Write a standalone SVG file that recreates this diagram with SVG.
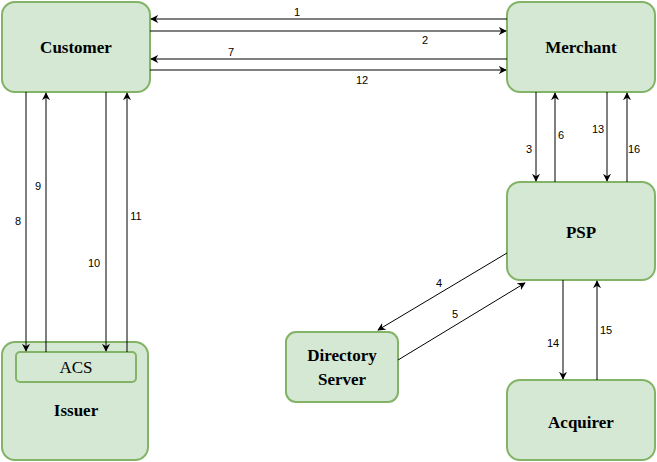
<svg xmlns="http://www.w3.org/2000/svg" width="657" height="462" viewBox="0 0 657 462">
<style>
.n{fill:#d5e8d4;stroke:#82b366;stroke-width:2}
.t{font-family:"Liberation Serif",serif;font-weight:bold;font-size:17px;text-anchor:middle}
.c line{stroke:#000;stroke-width:1;marker-end:url(#a)}
.l{font-family:"Liberation Sans",sans-serif;font-size:11px;text-anchor:middle}
</style>
<defs><marker id="a" viewBox="0 0 10 10" refX="9" refY="5" markerWidth="8" markerHeight="8" orient="auto" markerUnits="userSpaceOnUse"><path d="M0,0 L10,5 L0,10 L3,5z" fill="#000"/></marker></defs>
<rect width="657" height="462" fill="#fff"/>
<g id="customer"><rect class="n" x="2" y="2" width="148" height="90" rx="13"/><text class="t" x="76" y="53">Customer</text></g>
<g id="merchant"><rect class="n" x="507" y="2" width="148" height="90" rx="13"/><text class="t" x="581" y="53">Merchant</text></g>
<g id="psp"><rect class="n" x="507" y="182" width="148" height="98" rx="13"/><text class="t" x="581" y="238">PSP</text></g>
<g id="acquirer"><rect class="n" x="507" y="380" width="148" height="80" rx="13"/><text class="t" x="581" y="428">Acquirer</text></g>
<g id="directory"><rect class="n" x="286" y="332" width="112" height="70" rx="10"/><text class="t" x="342" y="361">Directory</text><text class="t" x="342" y="385">Server</text></g>
<g id="issuer"><rect class="n" x="2" y="342" width="146" height="118" rx="13"/><text class="t" x="76" y="416">Issuer</text>
<g id="acs"><rect class="n" x="16" y="352" width="120" height="30" rx="4"/><text x="76" y="373" style="font-family:'Liberation Serif',serif;font-size:17px;text-anchor:middle">ACS</text></g></g>
<g class="c">
<line x1="507" y1="19" x2="151" y2="19"/>
<line x1="150" y1="31" x2="506" y2="31"/>
<line x1="507" y1="59" x2="151" y2="59"/>
<line x1="150" y1="70" x2="506" y2="70"/>
<line x1="536" y1="92" x2="536" y2="181"/>
<line x1="555" y1="182" x2="555" y2="93"/>
<line x1="607" y1="92" x2="607" y2="181"/>
<line x1="627" y1="182" x2="627" y2="93"/>
<line x1="26" y1="92" x2="26" y2="351"/>
<line x1="46" y1="352" x2="46" y2="93"/>
<line x1="106" y1="92" x2="106" y2="351"/>
<line x1="127" y1="352" x2="127" y2="93"/>
<line x1="507" y1="253" x2="378" y2="330"/>
<line x1="398" y1="360" x2="525" y2="283"/>
<line x1="563" y1="280" x2="563" y2="379"/>
<line x1="597" y1="380" x2="597" y2="281"/>
</g>
<g id="labels">
<text class="l" x="297" y="16">1</text><text class="l" x="425" y="44">2</text><text class="l" x="231" y="56">7</text><text class="l" x="362" y="84">12</text>
<text class="l" x="529" y="153">3</text><text class="l" x="561" y="139">6</text><text class="l" x="598" y="133">13</text><text class="l" x="634" y="153">16</text>
<text class="l" x="18" y="225">8</text><text class="l" x="38" y="190">9</text><text class="l" x="94" y="267">10</text><text class="l" x="136" y="220">11</text>
<text class="l" x="439" y="287">4</text><text class="l" x="455" y="318">5</text><text class="l" x="553" y="347">14</text><text class="l" x="606" y="334">15</text>
</g>
</svg>
